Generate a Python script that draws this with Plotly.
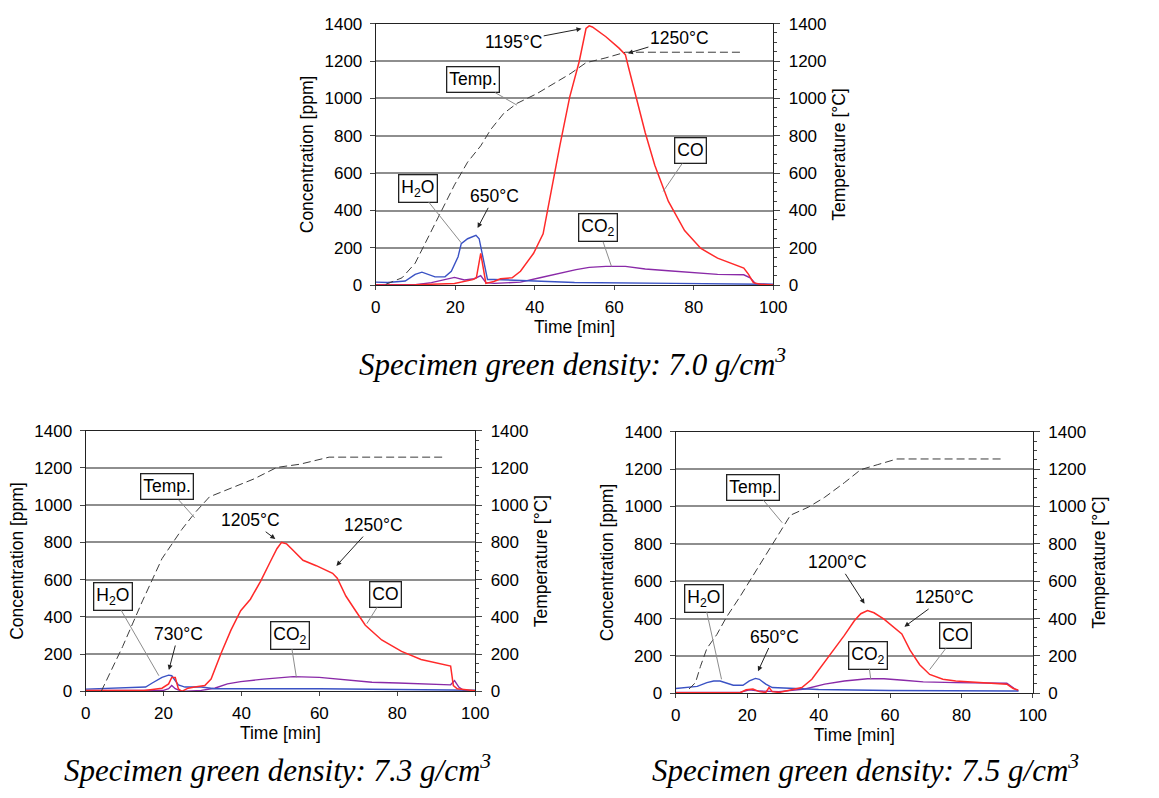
import plotly.graph_objects as go

# ---------------- Specimen green density 7.0 g/cm3 ----------------
t_temp_70 = [2.5, 6.6, 9.9, 13.2, 16.5, 19.8, 23.1, 26.4, 28.9, 32.2, 35.5, 40.5, 44.6, 48.8, 52.9, 57.9, 62.8, 92.6]
temp_70 = [5, 40, 118, 258, 397, 537, 659, 746, 833, 920, 973, 1025, 1077, 1130, 1191, 1217, 1247, 1247]

t_co_70 = [0, 10, 19.8, 23, 24.4, 25.3, 26.4, 27.7, 29.7, 31.4, 34.3, 36.4, 39.7, 42.1, 43.8, 46.3, 48.8, 51.2, 52.9, 53.7,
           54.5, 57.9, 61.2, 62.8, 63.6, 65.3, 67.8, 70.2, 73.6, 77.7, 81.8, 86, 89.3, 92.6, 93.8, 95, 96.7, 100]
co_70 = [2, 3, 10, 25, 30, 40, 171, 10, 20, 35, 40, 75, 171, 275, 467, 746, 1008, 1199, 1374, 1388,
         1382, 1330, 1269, 1234, 1165, 1025, 816, 642, 450, 293, 197, 145, 119, 92, 58, 14, 5, 2]

t_h2o_70 = [0, 3, 7.4, 9.9, 11.6, 13.2, 14.9, 17.4, 19, 20.7, 21.5, 23.1, 25.2, 26, 27.3, 28.1, 29.8, 40, 50, 75, 95, 100]
h2o_70 = [17, 15, 23, 58, 70, 58, 45, 45, 75, 153, 223, 249, 267, 249, 101, 31, 31, 22, 15, 10, 6, 5]

t_co2_70 = [0, 10, 14, 17.4, 19.8, 22.3, 24.8, 26.4, 27.7, 29.8, 36.4, 41.3, 46.3, 50.4, 53.7, 57.9, 62.8, 67.8, 73.6,
            80.2, 86, 92.6, 94.2, 95.5, 97.5, 100]
co2_70 = [3, 3, 14, 31, 42, 28, 35, 52, 14, 10, 17, 40, 66, 84, 96, 101, 101, 87, 78, 66, 58, 56, 40, 9, 5, 3]

# ---------------- Specimen green density 7.3 g/cm3 ----------------
t_temp_73 = [4, 9.5, 14.6, 19.6, 24.7, 28, 31.8, 38.1, 43.2, 49.1, 55, 62.5, 92.4]
temp_73 = [0, 241, 486, 713, 870, 958, 1045, 1098, 1141, 1203, 1220, 1258, 1258]

t_co_73 = [0, 15, 17.1, 19.6, 21.3, 22.1, 23, 23.8, 24.7, 26.3, 28, 30.6, 32.2, 34.8, 37.3, 39.8, 42.3, 44.9, 47.4, 49.1,
           50.3, 51.6, 53.3, 55.8, 59.2, 63.4, 64.6, 66.8, 69.3, 71.8, 76, 81.1, 86.1, 91.2, 93.7, 94.4, 95.4, 100]
co_73 = [5, 5, 10, 17, 40, 75, 75, 14, 0, 17, 23, 31, 66, 206, 329, 433, 495, 591, 696, 766,
         800, 792, 757, 704, 675, 634, 608, 512, 433, 355, 276, 215, 171, 145, 136, 31, 14, 3]

t_h2o_73 = [0, 10.4, 15.4, 17.1, 19.6, 21.3, 22.1, 23.8, 25.5, 29.7, 33.1, 60, 94, 100]
h2o_73 = [12, 17, 23, 45, 75, 87, 84, 35, 23, 23, 14, 14, 10, 6]

t_co2_73 = [0, 20, 21.3, 22.1, 23, 24.7, 29.7, 33.1, 36.4, 39.8, 45.7, 53.3, 60, 66.8, 73.5, 80.2, 88.6, 93.7, 94.7,
            95.8, 97, 100]
co2_73 = [5, 5, 14, 31, 14, 0, 5, 17, 40, 52, 66, 79, 75, 61, 49, 45, 40, 35, 58, 23, 5, 3]

# ---------------- Specimen green density 7.5 g/cm3 ----------------
t_temp_75 = [3.7, 5.5, 6.9, 8.7, 11.5, 14.2, 17.9, 21.6, 25.2, 28.9, 32.1, 37.2, 41.7, 47.2, 51.8, 56.4, 61.9, 91.3]
temp_75 = [23, 57, 144, 240, 315, 408, 515, 630, 743, 856, 953, 997, 1049, 1127, 1197, 1223, 1254, 1254]

t_co_75 = [0, 18, 19.7, 21.6, 23.4, 25.2, 26.1, 27, 28.9, 32.6, 35.3, 38.1, 40.8, 43.6, 47.2, 50, 51.8, 53.7, 55.5, 58.3,
           61, 63.3, 65.6, 68.3, 71.1, 74.8, 78.4, 83, 87.6, 92.7, 94.5, 95.9]
co_75 = [3, 3, 19, 23, 9, 5, 31, 9, 5, 19, 31, 75, 144, 214, 310, 388, 426, 443, 431, 397,
         357, 318, 231, 153, 101, 75, 66, 61, 57, 49, 26, 17]

t_h2o_75 = [0, 6, 8.7, 10.6, 12.4, 14.2, 16.1, 18.8, 20.6, 22.3, 23.4, 25.2, 27, 40, 60, 94, 96]
h2o_75 = [26, 37, 57, 66, 66, 54, 43, 43, 66, 80, 75, 49, 31, 20, 15, 12, 12]

t_co2_75 = [0, 18, 20.6, 23.4, 28.9, 36.2, 41.7, 47.2, 53.7, 58.3, 63.8, 69.3, 78.4, 92.7, 95, 95.9]
co2_75 = [5, 5, 19, 12, 9, 23, 49, 66, 78, 78, 70, 61, 57, 54, 23, 14]

# Temperature call-outs: (label, text x, text y, arrow tip x, arrow tip y)
callouts_70 = [("1195°C", 34.7, 1304, 52, 1374), ("1250°C", 76.4, 1325, 63.2, 1240), ("650°C", 29.8, 476, 25.5, 302)]
callouts_73 = [("1205°C", 42.3, 919, 48.9, 815), ("1250°C", 73.9, 893, 64.2, 670), ("730°C", 23.8, 308, 21.3, 110)]
callouts_75 = [("1200°C", 45.4, 701, 53, 475), ("1250°C", 75.2, 513, 63.8, 353), ("650°C", 27.5, 304, 22.9, 113)]

# Boxed series labels: (label, box x, box y, leader end x, leader end y)
labels_70 = [("Temp.", 24.4, 1100, 35.5, 964), ("H<sub>2</sub>O", 10.5, 520, 21.5, 227),
             ("CO", 79.3, 720, 72.3, 502), ("CO<sub>2</sub>", 56, 307, 59.3, 101)]
labels_73 = [("Temp.", 20.9, 1098, 28, 932), ("H<sub>2</sub>O", 7, 512, 18.8, 84),
             ("CO", 76.9, 521, 72.2, 364), ("CO<sub>2</sub>", 52.4, 302, 54.1, 75)]
labels_75 = [("Temp.", 21.6, 1101, 29.8, 913), ("H<sub>2</sub>O", 7.8, 510, 12.8, 75),
             ("CO", 78.4, 310, 71.1, 127), ("CO<sub>2</sub>", 53.7, 205, 54.6, 75)]

captions = ["Specimen green density: 7.0 g/cm<sup>3</sup>",
            "Specimen green density: 7.3 g/cm<sup>3</sup>",
            "Specimen green density: 7.5 g/cm<sup>3</sup>"]

W, H = 1159, 798
FONT = "Liberation Sans, Arial, sans-serif"
RED, BLUE, PURPLE, TEMP = "#ff2a2a", "#3a52c4", "#8a2aa8", "#3c3c3c"
TICK, TITLE, NOTE = 17, 17.5, 17.5

panels = [
    dict(x=(377, 781), y=(15, 283), temp=(t_temp_70, temp_70), co=(t_co_70, co_70), h2o=(t_h2o_70, h2o_70),
         co2=(t_co2_70, co2_70), callouts=callouts_70, labels=labels_70, caption=captions[0], cap=(577, 362)),
    dict(x=(82, 478), y=(432, 699), temp=(t_temp_73, temp_73), co=(t_co_73, co_73), h2o=(t_h2o_73, h2o_73),
         co2=(t_co2_73, co2_73), callouts=callouts_73, labels=labels_73, caption=captions[1], cap=(277, 778)),
    dict(x=(682, 1045), y=(433, 701), temp=(t_temp_75, temp_75), co=(t_co_75, co_75), h2o=(t_h2o_75, h2o_75),
         co2=(t_co2_75, co2_75), callouts=callouts_75, labels=labels_75, caption=captions[2], cap=(875, 778)),
]

fig = go.Figure()
layout = dict(width=W, height=H, margin=dict(l=0, r=0, t=0, b=0), paper_bgcolor="white",
              plot_bgcolor="white", showlegend=False, font=dict(family=FONT, size=TICK, color="black"))
annotations = []

for i, p in enumerate(panels):
    xn = "x" if i == 0 else f"x{i + 1}"
    yl = "y" if i == 0 else f"y{2 * i + 1}"
    yr = f"y{2 * i + 2}"
    xdom = [p["x"][0] / W, p["x"][1] / W]
    ydom = [1 - p["y"][1] / H, 1 - p["y"][0] / H]

    layout["xaxis" + xn[1:]] = dict(domain=xdom, anchor=yl, range=[0, 100], dtick=20, ticks="outside", ticklen=4,
                                    showline=True, linecolor="#222", linewidth=1.2, mirror=True, showgrid=False,
                                    zeroline=False, tickfont=dict(size=TICK), ticklabelstandoff=2,
                                    title=dict(text="Time [min]", font=dict(size=TITLE), standoff=2))
    layout["yaxis" + yl[1:]] = dict(domain=ydom, anchor=xn, range=[0, 1400], dtick=200, ticks="outside", ticklen=5,
                                    showline=True, linecolor="#222", linewidth=1.2, showgrid=True,
                                    gridcolor="#8e8e8e", gridwidth=1.6, zeroline=False, tickfont=dict(size=TICK),
                                    ticklabelstandoff=4,
                                    title=dict(text="Concentration [ppm]", font=dict(size=TITLE), standoff=6))
    layout["yaxis" + yr[1:]] = dict(domain=ydom, anchor=xn, overlaying=yl, side="right", range=[0, 1400],
                                    dtick=200, ticks="outside", ticklen=6, showline=True, linecolor="#222",
                                    linewidth=1.2, showgrid=False, zeroline=False, tickfont=dict(size=TICK),
                                    ticklabelstandoff=5,
                                    minor=dict(dtick=50, ticks="outside", ticklen=3, showgrid=False),
                                    title=dict(text="Temperature [°C]", font=dict(size=TITLE), standoff=7))

    fig.add_trace(go.Scatter(x=p["co2"][0], y=p["co2"][1], mode="lines", line=dict(color=PURPLE, width=1.4),
                             xaxis=xn, yaxis=yl, name="CO2"))
    fig.add_trace(go.Scatter(x=p["h2o"][0], y=p["h2o"][1], mode="lines", line=dict(color=BLUE, width=1.4),
                             xaxis=xn, yaxis=yl, name="H2O"))
    fig.add_trace(go.Scatter(x=p["co"][0], y=p["co"][1], mode="lines", line=dict(color=RED, width=1.5),
                             xaxis=xn, yaxis=yl, name="CO"))
    fig.add_trace(go.Scatter(x=p["temp"][0], y=p["temp"][1], mode="lines",
                             line=dict(color=TEMP, width=1, dash="8px,4px"), xaxis=xn, yaxis=yr, name="Temp."))

    for txt, tx, ty, hx, hy in p["callouts"]:
        annotations.append(dict(text=txt, x=hx, y=hy, ax=tx, ay=ty, xref=xn, yref=yl, axref=xn, ayref=yl,
                                showarrow=True, arrowhead=2, arrowsize=1, arrowwidth=1, arrowcolor="#222",
                                font=dict(size=NOTE), standoff=1))
    for txt, bx, by, ex, ey in p["labels"]:
        annotations.append(dict(text=txt, x=ex, y=ey, ax=bx, ay=by, xref=xn, yref=yl, axref=xn, ayref=yl,
                                showarrow=True, arrowhead=0, arrowwidth=1, arrowcolor="#8c8c8c",
                                bgcolor="white", bordercolor="#222", borderwidth=1.3, borderpad=2,
                                font=dict(size=NOTE)))
    annotations.append(dict(text="<i>" + p["caption"] + "</i>", x=p["cap"][0] / W, y=1 - p["cap"][1] / H,
                            xref="paper", yref="paper", showarrow=False, xanchor="center", yanchor="middle",
                            font=dict(family="Liberation Serif, Times New Roman, serif", size=31)))

layout["annotations"] = annotations
fig.update_layout(**layout)
fig.write_html("out.html")
